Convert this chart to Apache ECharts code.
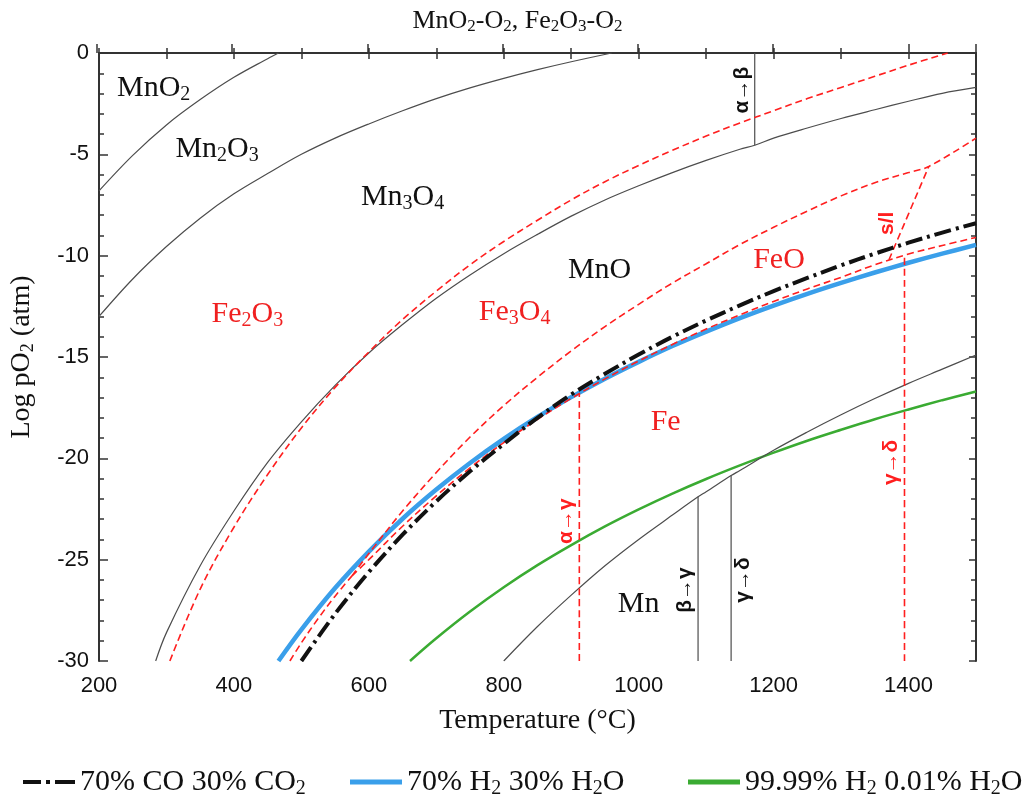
<!DOCTYPE html>
<html>
<head>
<meta charset="utf-8">
<script src="https://cdn.jsdelivr.net/npm/echarts@6/dist/echarts.min.js"></script>
<style>
  html, body { margin: 0; padding: 0; background: #ffffff; }
  #chart { width: 1035px; height: 797px; }
</style>
</head>
<body>
<div id="chart"></div>
<script>
// ---- Phase boundaries: temperature (°C) and log pO2 (atm) ----
// Mn-O system
const mnO2Mn2O3T = [200, 250, 300, 350, 400, 450, 466];
const mnO2Mn2O3P = [-6.8, -5.05, -3.55, -2.3, -1.2, -0.28, 0];

const mn2O3Mn3O4T = [200, 250, 300, 350, 400, 450, 500, 550, 600, 650, 700, 750, 800, 850, 900, 960];
const mn2O3Mn3O4P = [-13.0, -11.15, -9.55, -8.15, -6.95, -5.95, -5.0, -4.2, -3.5, -2.85, -2.25, -1.72, -1.25, -0.82, -0.43, 0];

const mn3O4MnOT = [284, 300, 350, 400, 450, 500, 550, 600, 650, 700, 750, 800, 850, 900, 950, 1000, 1050, 1100, 1150, 1172, 1200, 1250, 1300, 1350, 1400, 1450, 1500];
const mn3O4MnOP = [-30, -28.6, -25.3, -22.6, -20.2, -18.2, -16.4, -14.8, -13.4, -12.1, -10.95, -9.9, -8.95, -8.05, -7.25, -6.55, -5.9, -5.3, -4.75, -4.55, -4.2, -3.7, -3.23, -2.8, -2.38, -1.99, -1.7];

const mnOMnT = [800, 850, 900, 950, 1000, 1050, 1088, 1100, 1137, 1150, 1200, 1250, 1300, 1350, 1400, 1450, 1500];
const mnOMnP = [-30, -28.3, -26.75, -25.3, -24.0, -22.8, -21.9, -21.65, -20.85, -20.6, -19.6, -18.7, -17.85, -17.05, -16.3, -15.6, -14.9];

// Fe-O system
const fe2O3Fe3O4T = [305, 350, 400, 450, 500, 550, 600, 650, 700, 750, 800, 850, 900, 950, 1000, 1050, 1100, 1150, 1200, 1250, 1300, 1350, 1400, 1458];
const fe2O3Fe3O4P = [-30, -26.45, -23.4, -20.8, -18.5, -16.5, -14.75, -13.15, -11.75, -10.45, -9.3, -8.25, -7.25, -6.35, -5.55, -4.8, -4.1, -3.45, -2.85, -2.25, -1.7, -1.15, -0.6, 0];

const fe3O4FeT = [483, 500, 525, 550, 575];
const fe3O4FeP = [-30, -29.1, -27.9, -26.8, -25.8];

const fe3O4FeOT = [575, 600, 650, 700, 750, 800, 850, 900, 950, 1000, 1050, 1100, 1150, 1200, 1250, 1300, 1350, 1400, 1430, 1500];
const fe3O4FeOP = [-25.8, -24.7, -22.6, -20.7, -18.95, -17.4, -16.0, -14.7, -13.5, -12.4, -11.35, -10.4, -9.45, -8.6, -7.8, -7.05, -6.4, -5.9, -5.6, -4.2];

const feOFeT = [575, 600, 650, 700, 750, 800, 850, 900, 950, 1000, 1050, 1100, 1150, 1200, 1250, 1300, 1350, 1400, 1450, 1500];
const feOFeP = [-25.8, -25.0, -23.35, -21.85, -20.47, -19.22, -18.08, -17.04, -16.08, -15.2, -14.38, -13.62, -12.92, -12.26, -11.64, -11.07, -10.45, -9.92, -9.5, -9.1];

const feOMeltT = [1371, 1430];
const feOMeltP = [-10.2, -5.6];

// Allotropic transitions (vertical segments)
const mnAlphaBetaT = [1172, 1172];   const mnAlphaBetaP = [-4.55, 0];
const mnBetaGammaT = [1088, 1088];   const mnBetaGammaP = [-30, -21.9];
const mnGammaDeltaT = [1137, 1137];  const mnGammaDeltaP = [-30, -20.85];
const feAlphaGammaT = [912, 912];    const feAlphaGammaP = [-30, -16.8];
const feGammaDeltaT = [1394, 1394];  const feGammaDeltaP = [-30, -9.95];

// Equilibrium pO2 of the reducing gas mixtures
const gasCOT = [500, 550, 600, 650, 700, 750, 800, 850, 900, 950, 1000, 1050, 1100, 1150, 1200, 1250, 1300, 1350, 1400, 1450, 1500];
const gasCOP = [-30, -27.67, -25.61, -23.77, -22.12, -20.64, -19.29, -18.0, -16.85, -15.83, -14.88, -14.0, -13.2, -12.45, -11.75, -11.1, -10.48, -9.9, -9.36, -8.86, -8.4];

const gasH2T = [466, 500, 550, 600, 650, 700, 750, 800, 850, 900, 950, 1000, 1050, 1100, 1150, 1200, 1250, 1300, 1350, 1400, 1450, 1500];
const gasH2P = [-30, -28.45, -26.4, -24.6, -22.98, -21.54, -20.23, -19.04, -17.96, -16.98, -16.07, -15.24, -14.46, -13.75, -13.08, -12.46, -11.88, -11.34, -10.83, -10.35, -9.9, -9.47];

const gasDryH2T = [661, 700, 750, 800, 850, 900, 950, 1000, 1050, 1100, 1150, 1200, 1250, 1300, 1350, 1400, 1450, 1500];
const gasDryH2P = [-30, -28.88, -27.56, -26.36, -25.27, -24.28, -23.36, -22.52, -21.74, -21.02, -20.35, -19.72, -19.13, -18.59, -18.07, -17.59, -17.13, -16.7];

const gasNames = ['70% CO 30% CO2', '70% H2 30% H2O', '99.99% H2 0.01% H2O'];

// ---- Region and transition labels ----
const mnPhaseNames = ['MnO2', 'Mn2O3', 'Mn3O4', 'MnO', 'Mn'];
const mnPhaseT = [281, 375, 650, 942, 1000];
const mnPhaseP = [-1.73, -4.74, -7.1, -10.7, -27.2];

const fePhaseNames = ['Fe2O3', 'Fe3O4', 'FeO', 'Fe'];
const fePhaseT = [420, 816, 1208, 1040];
const fePhaseP = [-12.9, -12.8, -10.2, -18.2];

const mnTransNames = ['α→β', 'β→γ', 'γ→δ'];
const mnTransT = [1153, 1069, 1155];
const mnTransP = [-1.83, -26.5, -26.0];

const feTransNames = ['α→γ', 'γ→δ', 's/l'];
const feTransT = [893, 1374, 1368];
const feTransP = [-23.1, -20.2, -8.4];

// ---- Styling helpers ----
const SERIF = '"Liberation Serif", "Times New Roman", serif';
const SANS = '"Liberation Sans", Arial, sans-serif';
const INK = '#111111';
const RED = '#ff1f1f';
const RED_TEXT = '#f02020';
const GRAY = '#4d4d4d';
const BLUE = '#3a9fea';
const GREEN = '#3aab32';

// Chemical formulas: a digit right after a letter becomes a subscript
function sub(text) {
  return text.replace(/([A-Za-z])(\d)/g, '$1{s|$2}');
}
function subRich(size, color) {
  return {
    s: {
      fontFamily: SERIF,
      fontSize: Math.round(size * 0.66),
      color: color,
      padding: [Math.round(size * 0.42), 0, 0, 0]
    }
  };
}
function pairs(ts, ps) {
  return ts.map((t, i) => [t, ps[i]]);
}

function boundary(name, ts, ps, kind) {
  const styles = {
    mn: { color: GRAY, width: 1.2, type: 'solid' },
    fe: { color: RED, width: 1.6, type: [7, 4] }
  };
  return {
    name: name,
    type: 'line',
    data: pairs(ts, ps),
    showSymbol: false,
    symbol: 'none',
    smooth: 0.35,
    silent: true,
    z: 4,
    lineStyle: styles[kind]
  };
}

function labelSeries(names, ts, ps, opts) {
  return {
    type: 'scatter',
    silent: true,
    symbolSize: 0,
    z: 10,
    itemStyle: { opacity: 1 },
    data: names.map((n, i) => ({ name: n, value: [ts[i], ps[i]] })),
    label: Object.assign({
      show: true,
      position: 'inside',
      formatter: p => sub(p.name)
    }, opts)
  };
}

const phaseFont = 30;
const transFont = 21;

const series = [
  // gas mixtures
  {
    name: gasNames[1], type: 'line', data: pairs(gasH2T, gasH2P),
    showSymbol: false, symbol: 'none', smooth: 0.35, z: 3,
    lineStyle: { color: BLUE, width: 4.5 }, itemStyle: { color: BLUE }
  },
  {
    name: gasNames[2], type: 'line', data: pairs(gasDryH2T, gasDryH2P),
    showSymbol: false, symbol: 'none', smooth: 0.35, z: 3,
    lineStyle: { color: GREEN, width: 2.5 }, itemStyle: { color: GREEN }
  },
  {
    name: gasNames[0], type: 'line', data: pairs(gasCOT, gasCOP),
    showSymbol: false, symbol: 'none', smooth: 0.35, z: 5,
    lineStyle: { color: INK, width: 4, type: [17, 5, 3, 5], cap: 'butt' },
    itemStyle: { color: INK }
  },
  // Mn-O boundaries
  boundary('MnO2/Mn2O3', mnO2Mn2O3T, mnO2Mn2O3P, 'mn'),
  boundary('Mn2O3/Mn3O4', mn2O3Mn3O4T, mn2O3Mn3O4P, 'mn'),
  boundary('Mn3O4/MnO', mn3O4MnOT, mn3O4MnOP, 'mn'),
  boundary('MnO/Mn', mnOMnT, mnOMnP, 'mn'),
  boundary('Mn α/β', mnAlphaBetaT, mnAlphaBetaP, 'mn'),
  boundary('Mn β/γ', mnBetaGammaT, mnBetaGammaP, 'mn'),
  boundary('Mn γ/δ', mnGammaDeltaT, mnGammaDeltaP, 'mn'),
  // Fe-O boundaries
  boundary('Fe2O3/Fe3O4', fe2O3Fe3O4T, fe2O3Fe3O4P, 'fe'),
  boundary('Fe3O4/Fe', fe3O4FeT, fe3O4FeP, 'fe'),
  boundary('Fe3O4/FeO', fe3O4FeOT, fe3O4FeOP, 'fe'),
  boundary('FeO/Fe', feOFeT, feOFeP, 'fe'),
  boundary('FeO s/l', feOMeltT, feOMeltP, 'fe'),
  boundary('Fe α/γ', feAlphaGammaT, feAlphaGammaP, 'fe'),
  boundary('Fe γ/δ', feGammaDeltaT, feGammaDeltaP, 'fe'),
  // labels
  labelSeries(mnPhaseNames, mnPhaseT, mnPhaseP, {
    fontFamily: SERIF, fontSize: phaseFont, color: INK, rich: subRich(phaseFont, INK)
  }),
  labelSeries(fePhaseNames, fePhaseT, fePhaseP, {
    fontFamily: SERIF, fontSize: phaseFont, color: RED_TEXT, rich: subRich(phaseFont, RED_TEXT)
  }),
  labelSeries(mnTransNames, mnTransT, mnTransP, {
    fontFamily: SANS, fontSize: transFont, fontWeight: 'bold', color: INK, rotate: 90
  }),
  labelSeries(feTransNames, feTransT, feTransP, {
    fontFamily: SANS, fontSize: transFont, fontWeight: 'bold', color: RED, rotate: 90
  })
];

const frameLine = { show: true, lineStyle: { color: '#333333', width: 2 } };
const tickLine = { color: '#333333', width: 1.5 };
const GRID = { left: 97, right: 59, top: 53, bottom: 136 };

// legend swatches: dash-dot for the CO mixture, solid bars for the H2 mixtures
const dashDotIcon = 'path://M0,0h18v4h-18z M23,0h4v4h-4z M32,0h20v4h-20z';

function legendAt(name, icon, left) {
  return {
    data: [{ name: name, icon: icon }],
    left: left,
    top: 762,
    itemWidth: 52,
    itemHeight: 5,
    itemGap: 0,
    selectedMode: false,
    formatter: n => sub(n),
    textStyle: {
      fontFamily: SERIF, fontSize: 30, color: INK,
      rich: subRich(30, INK)
    }
  };
}

const option = {
  animation: false,
  backgroundColor: '#ffffff',
  title: {
    text: sub('MnO2-O2, Fe2O3-O2'),
    left: 'center',
    top: 2,
    textStyle: {
      fontFamily: SERIF, fontSize: 26, fontWeight: 'normal', color: INK,
      rich: subRich(26, INK)
    }
  },
  legend: [
    legendAt(gasNames[0], dashDotIcon, 18),
    legendAt(gasNames[1], 'rect', 345),
    legendAt(gasNames[2], 'rect', 683)
  ],
  grid: [Object.assign({}, GRID), Object.assign({}, GRID)],
  xAxis: [
    {
      gridIndex: 0, type: 'value', position: 'bottom',
      min: 200, max: 1500, interval: 100,
      axisLine: frameLine,
      axisTick: { inside: true, length: 5, lineStyle: tickLine },
      axisLabel: {
        formatter: v => (v % 200 === 0 && v < 1500 ? String(v) : ''),
        fontFamily: SANS, fontSize: 22, color: INK, margin: 14
      },
      splitLine: { show: false },
      name: 'Temperature (°C)',
      nameLocation: 'middle',
      nameGap: 46,
      nameTextStyle: { fontFamily: SERIF, fontSize: 28, color: INK }
    },
    {
      gridIndex: 0, type: 'value', position: 'top',
      min: 200, max: 1500, interval: 100,
      axisLine: frameLine,
      axisTick: { inside: true, length: 6, lineStyle: tickLine },
      axisLabel: { show: false },
      splitLine: { show: false }
    },
    {
      // longer ticks at the labelled temperatures
      gridIndex: 1, type: 'value', position: 'bottom',
      min: 200, max: 1500, interval: 200,
      axisLine: { show: false },
      axisTick: { inside: true, length: 9, lineStyle: tickLine },
      axisLabel: { show: false },
      splitLine: { show: false }
    }
  ],
  yAxis: [
    {
      gridIndex: 0, type: 'value', position: 'left',
      min: -30, max: 0, interval: 5,
      axisLine: frameLine,
      axisTick: { inside: true, length: 9, lineStyle: tickLine },
      minorTick: { show: true, splitNumber: 5, length: 5, lineStyle: tickLine },
      axisLabel: { fontFamily: SANS, fontSize: 22, color: INK, margin: 10 },
      splitLine: { show: false },
      name: sub('Log pO2 (atm)'),
      nameLocation: 'middle',
      nameGap: 62,
      nameTextStyle: {
        fontFamily: SERIF, fontSize: 28, color: INK,
        rich: subRich(28, INK)
      }
    },
    {
      gridIndex: 0, type: 'value', position: 'right',
      min: -30, max: 0, interval: 5,
      axisLine: frameLine,
      axisTick: { inside: true, length: 7, lineStyle: tickLine },
      minorTick: { show: true, splitNumber: 5, length: 5, lineStyle: tickLine },
      axisLabel: { show: false },
      splitLine: { show: false }
    },
    {
      gridIndex: 1, type: 'value', min: -30, max: 0, show: false
    }
  ],
  series: series
};

const chart = echarts.init(document.getElementById('chart'), null, { renderer: 'canvas' });
chart.setOption(option);
</script>
</body>
</html>
